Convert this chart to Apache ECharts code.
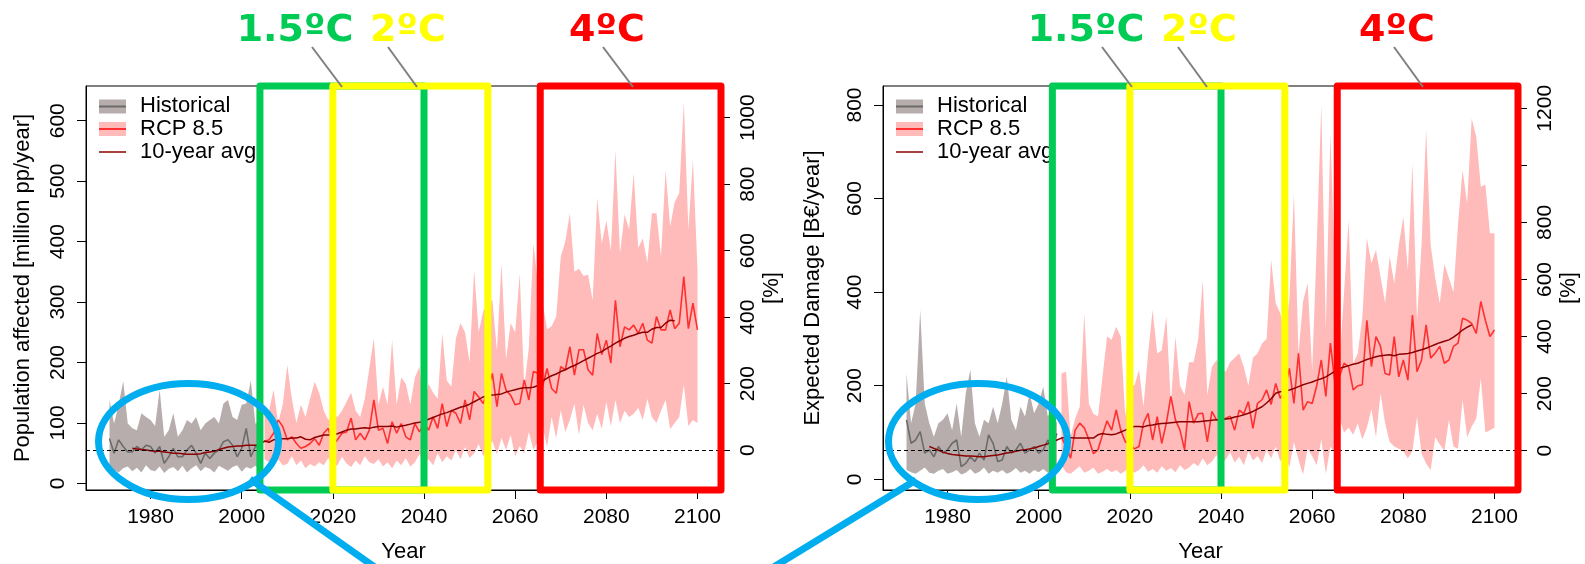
<!DOCTYPE html>
<html>
<head>
<meta charset="utf-8">
<script src="https://cdn.jsdelivr.net/npm/echarts@6/dist/echarts.min.js"></script>
<style>
html, body { margin: 0; padding: 0; background: #fff; }
#main { width: 1585px; height: 564px; }
</style>
</head>
<body>
<div id="main"></div>
<script>
// years
var histStart = 1971;   // historical 1971-2004
var rcpStart = 2005;    // RCP 8.5 2005-2100
var avgStart = 1976;    // 10-year avg 1976-2095
var xMin = 1965.84, xMax = 2105.16;
var xTicks = [1980, 2000, 2020, 2040, 2060, 2080, 2100];

// ---- left panel: population affected [million pp/year]
var popRange = [-11, 657.5];
var popBase = 55;
var popTicks = [0, 100, 200, 300, 400, 500, 600];
var popPctTicks = [0, 200, 400, 600, 800, 1000];
var popPctLabels = [0, 200, 400, 600, 800, 1000];

var popHistHigh = [138, 99, 130, 169, 99, 91, 88, 116, 110, 105,
    95, 155, 77, 88, 116, 77, 88, 105, 99, 110,
    88, 99, 105, 110, 99, 132, 138, 110, 105, 130,
    132, 170, 99, 100];
var popHistLow = [30, 22, 18, 25, 28, 20, 26, 18, 30, 22,
    20, 28, 17, 24, 27, 20, 29, 18, 25, 30,
    20, 27, 24, 18, 29, 25, 21, 27, 30, 19,
    27, 24, 29, 22];
var popHistLine = [74, 50, 72, 61, 52, 52, 61, 55, 63, 61,
    50, 61, 33, 44, 58, 44, 44, 55, 63, 50,
    33, 50, 41, 50, 55, 69, 72, 63, 44, 58,
    91, 44, 61, 60];

var popRcpHigh = [130, 120, 155, 100, 130, 196, 140, 100, 130, 110,
    140, 168, 150, 120, 105, 115, 110, 120, 135, 150,
    120, 110, 140, 190, 240, 130, 160, 130, 237, 130,
    175, 165, 130, 175, 193, 130, 165, 150, 140, 248,
    170, 160, 240, 265, 250, 200, 353, 250, 285, 300,
    303, 220, 364, 205, 265, 250, 347, 160, 225, 397,
    330, 300, 255, 260, 276, 375, 400, 447, 350, 355,
    343, 345, 303, 472, 397, 435, 385, 551, 380, 445,
    420, 513, 390, 405, 365, 447, 447, 375, 518, 425,
    465, 480, 631, 420, 535, 355];
var popRcpLow = [40, 35, 28, 40, 30, 32, 45, 30, 38, 25,
    32, 28, 35, 30, 42, 28, 30, 44, 33, 27,
    38, 30, 45, 35, 32, 40, 28, 35, 25, 38,
    30, 42, 28, 35, 48, 32, 40, 30, 50, 35,
    45, 38, 55, 40, 60, 42, 50, 65, 45, 58,
    70, 48, 75, 55, 80, 45, 62, 50, 85, 55,
    70, 95, 60, 110, 75, 121, 85, 105, 132, 80,
    130, 100, 88, 115, 90, 135, 95, 138, 100, 120,
    110, 115, 125, 105, 140, 110, 100, 120, 138, 90,
    100, 110, 163, 95, 105, 100];
var popRcpLine = [69, 72, 83, 105, 94, 72, 77, 66, 58, 61,
    66, 74, 63, 83, 91, 63, 72, 83, 85, 108,
    72, 83, 72, 88, 138, 88, 91, 66, 102, 83,
    99, 77, 72, 99, 85, 99, 88, 110, 91, 132,
    94, 121, 116, 99, 138, 105, 152, 143, 132, 154,
    182, 127, 182, 154, 146, 130, 132, 171, 138, 185,
    182, 160, 190, 157, 149, 193, 188, 226, 179, 221,
    221, 188, 179, 248, 213, 237, 199, 303, 226, 259,
    254, 262, 248, 265, 237, 232, 276, 254, 254, 287,
    256, 265, 342, 256, 298, 254];
var popAvg = [58, 57, 56, 55, 54, 53, 53, 52, 51, 50,
    50, 49, 48, 48, 48, 49, 51, 52, 53, 56,
    58, 60, 61, 62, 62, 63, 63, 63, 64, 70,
    68, 72, 73, 74, 74, 75, 75, 77, 73, 72,
    76, 78, 80, 80, 80, 82, 85, 88, 90, 90,
    91, 92, 91, 93, 94, 94, 94, 95, 93, 95,
    96, 98, 100, 101, 103, 106, 109, 112, 115, 117,
    120, 123, 126, 128, 131, 135, 139, 143, 146, 146,
    147, 148, 151, 153, 155, 157, 158, 158, 159, 162,
    169, 174, 178, 181, 185, 188, 192, 195, 199, 203,
    207, 211, 215, 218, 223, 227, 232, 236, 240, 243,
    245, 248, 250, 250, 255, 258, 258, 265, 270, 269];

// ---- right panel: expected damage [B€/year]
var dmgRange = [-22.9, 840.6];
var dmgBase = 61;
var dmgTicks = [0, 200, 400, 600, 800];
var dmgPctTicks = [0, 200, 400, 600, 800, 1000, 1200];
var dmgPctLabels = [0, 200, 400, 600, 800, 1200];

var dmgHistHigh = [226, 120, 162, 362, 162, 120, 91, 120, 127, 141,
    105, 162, 91, 184, 234, 120, 91, 127, 120, 155,
    120, 162, 219, 127, 105, 155, 134, 184, 141, 162,
    198, 134, 155, 120];
var dmgHistLow = [20, 15, 12, 18, 25, 14, 12, 18, 22, 12,
    15, 20, 10, 14, 22, 12, 16, 25, 12, 18,
    14, 20, 12, 16, 24, 14, 18, 12, 20, 15,
    22, 14, 18, 25];
var dmgHistLine = [127, 77, 84, 102, 56, 63, 48, 70, 56, 63,
    77, 84, 27, 34, 48, 38, 56, 41, 95, 77,
    38, 41, 70, 56, 63, 77, 56, 63, 70, 56,
    63, 84, 70, 98];

var dmgRcpHigh = [226, 230, 91, 130, 155, 355, 162, 140, 134, 219,
    305, 298, 326, 305, 134, 205, 200, 234, 155, 269,
    362, 269, 276, 348, 162, 305, 200, 180, 250, 250,
    300, 426, 180, 240, 255, 241, 230, 250, 260, 269,
    240, 200, 260, 269, 290, 300, 469, 376, 355, 305,
    383, 611, 269, 380, 419, 234, 500, 800, 319, 739,
    440, 248, 400, 554, 248, 269, 346, 515, 462, 490,
    433, 376, 476, 419, 500, 561, 447, 675, 340, 501,
    747, 500, 430, 376, 460, 430, 400, 545, 661, 590,
    771, 732, 625, 630, 526, 526];
var dmgRcpLow = [30, 15, 12, 20, 28, 14, 18, 25, 12, 16,
    22, 15, 20, 12, 18, 26, 14, 20, 30, 16,
    22, 14, 28, 18, 24, 15, 30, 20, 25,
    35, 28, 45, 30, 38, 52, 32, 42, 58, 36, 48, 30, 60, 40, 50, 35, 62,
    45, 70, 38, 55, 25, 80, 42, 10, 65, 50, 30, 85, 12, 70, 55,
    130, 100, 110, 95, 120, 85, 110, 150, 90, 184,
    120, 80, 70, 65, 60, 45, 60, 134, 55, 34,
    20, 90, 75, 60, 127, 70, 65, 170, 90, 113,
    130, 216, 100, 105, 110];
var dmgRcpLine = [90, 70, 45, 105, 120, 110, 85, 55, 63, 95,
    125, 105, 148, 105, 80, 75, 65, 70, 120, 141,
    84, 134, 77, 120, 177, 127, 105, 63, 166, 120,
    140, 141, 80, 145, 127, 125, 130, 135, 105, 148,
    140, 166, 109, 162, 170, 191, 160, 205, 173, 190,
    237, 162, 269, 148, 166, 162, 200, 255, 177, 291,
    205, 220, 248, 241, 191, 200, 202, 340, 241, 305,
    284, 226, 223, 305, 219, 255, 212, 351, 230, 255,
    330, 259, 270, 284, 248, 255, 284, 291, 344, 340,
    333, 312, 380, 340, 305, 319];
var dmgAvg = [70, 66, 62, 58, 55, 53, 52, 51, 50, 50,
    49, 48, 48, 50, 51, 52, 54, 56, 58, 60,
    62, 63, 65, 67, 70, 73, 76, 80, 84, 88,
    90, 89, 88, 88, 88, 88, 88, 95, 98, 96,
    95, 97, 101, 105, 109, 113, 113, 112, 115, 116,
    118, 119, 120, 121, 122, 123, 123, 123, 123, 123,
    124, 125, 126, 127, 127, 129, 130, 133, 135, 138,
    141, 145, 150, 155, 163, 172, 184, 187, 189, 191,
    194, 198, 202, 205, 208, 212, 215, 219, 225, 231,
    237, 240, 243, 246, 248, 252, 256, 259, 262, 264,
    265, 266, 264, 267, 268, 269, 271, 274, 277, 280,
    284, 288, 292, 295, 298, 304, 311, 319, 325, 330];

// warming level windows (years)
var green = '#00cc55', yellow = '#ffff00', red = '#ff0000';
var popWindows = [[2004, 2040, green], [2020, 2054, yellow], [2065.5, xMax, red]];
var dmgWindows = [[2003, 2040, green], [2020, 2054, yellow], [2065.5, xMax, red]];

var font = 'Liberation Sans, Arial, sans-serif';
var histFill = '#b8adad', histLineColor = '#6b6b6b';
var rcpFill = '#ffbaba', rcpLineColor = '#ff3030', avgColor = '#8b0000';

function yearPairs(start, vals) {
    return vals.map(function (v, i) { return [start + i, v]; });
}

function bandSeries(gi, start, lo, hi, color) {
    var pts = lo.map(function (v, i) { return [start + i, v, hi[i]]; });
    return {
        type: 'custom', xAxisIndex: gi, yAxisIndex: gi * 2, z: 1, silent: true,
        data: pts,
        renderItem: function (params, api) {
            if (params.dataIndex !== 0) return null;
            var up = [], down = [];
            for (var i = 0; i < pts.length; i++) {
                up.push(api.coord([pts[i][0], pts[i][2]]));
                down.unshift(api.coord([pts[i][0], pts[i][1]]));
            }
            return { type: 'polygon', shape: { points: up.concat(down) }, style: { fill: color } };
        }
    };
}

function lineSeries(gi, data, color, width, z, base) {
    var s = {
        type: 'line', xAxisIndex: gi, yAxisIndex: gi * 2, data: data,
        symbol: 'none', showSymbol: false, z: z, silent: true,
        lineStyle: { color: color, width: width }, itemStyle: { color: color }
    };
    if (base !== undefined) {
        s.markLine = {
            silent: true, symbol: 'none', label: { show: false },
            lineStyle: { color: '#000', width: 1, type: [4, 3] },
            data: [{ yAxis: base }]
        };
    }
    return s;
}

function boxSeries(gi, wins, range) {
    return {
        type: 'custom', xAxisIndex: gi, yAxisIndex: gi * 2, z: 20, silent: true, clip: false,
        data: wins.map(function (w) { return [w[0], w[1], range[0], range[1]]; }),
        renderItem: function (params, api) {
            var p0 = api.coord([api.value(0), api.value(3)]);
            var p1 = api.coord([api.value(1), api.value(2)]);
            return {
                type: 'rect', z2: params.dataIndex,
                shape: { x: p0[0], y: p0[1], width: p1[0] - p0[0], height: p1[1] - p0[1] },
                style: { fill: 'none', stroke: wins[params.dataIndex][2], lineWidth: 7, lineJoin: 'round' }
            };
        }
    };
}

function plain(v) { return String(v); }

function xAxisFor(gi) {
    return {
        type: 'value', gridIndex: gi, min: xMin, max: xMax,
        axisLine: { onZero: false, lineStyle: { color: '#000', width: 1 } },
        axisTick: { customValues: xTicks, length: 9, lineStyle: { color: '#000' } },
        axisLabel: { customValues: xTicks, formatter: plain, margin: 17, fontSize: 21, color: '#000', fontFamily: font },
        splitLine: { show: false },
        name: 'Year', nameLocation: 'middle', nameGap: 51,
        nameTextStyle: { fontSize: 22, color: '#000', fontFamily: font }
    };
}

function yAxesFor(gi, range, base, ticks, pctTicks, pctLabels, title, gapL) {
    var pMin = (range[0] / base - 1) * 100, pMax = (range[1] / base - 1) * 100;
    return [{
        type: 'value', gridIndex: gi, position: 'left', min: range[0], max: range[1],
        axisLine: { onZero: false, lineStyle: { color: '#000' } },
        axisTick: { customValues: ticks, length: 9, lineStyle: { color: '#000' } },
        axisLabel: { customValues: ticks, formatter: plain, rotate: 90, margin: 17, fontSize: 21, color: '#000', fontFamily: font },
        splitLine: { show: false },
        name: title, nameLocation: 'middle', nameGap: gapL, nameRotate: 90,
        nameTextStyle: { fontSize: 22, color: '#000', fontFamily: font }
    }, {
        type: 'value', gridIndex: gi, position: 'right', min: pMin, max: pMax,
        axisLine: { onZero: false, lineStyle: { color: '#000' } },
        axisTick: { customValues: pctTicks, length: 9, lineStyle: { color: '#000' } },
        axisLabel: { customValues: pctLabels, formatter: plain, rotate: 90, margin: 17, fontSize: 21, color: '#000', fontFamily: font },
        splitLine: { show: false },
        name: '[%]', nameLocation: 'middle', nameGap: 40, nameRotate: 90,
        nameTextStyle: { fontSize: 22, color: '#000', fontFamily: font }
    }];
}

// legend, warming labels, zoom ellipses (annotations)
function legendGraphics(off) {
    var g = [];
    g.push({ type: 'rect', z: 5, shape: { x: 99 + off, y: 99.5, width: 27, height: 14 }, style: { fill: histFill } });
    g.push({ type: 'line', z: 5, shape: { x1: 99 + off, y1: 106.5, x2: 126 + off, y2: 106.5 }, style: { stroke: histLineColor, lineWidth: 2 } });
    g.push({ type: 'rect', z: 5, shape: { x: 99 + off, y: 122, width: 27, height: 14 }, style: { fill: rcpFill } });
    g.push({ type: 'line', z: 5, shape: { x1: 99 + off, y1: 129, x2: 126 + off, y2: 129 }, style: { stroke: rcpLineColor, lineWidth: 2 } });
    g.push({ type: 'line', z: 5, shape: { x1: 99 + off, y1: 152, x2: 126 + off, y2: 152 }, style: { stroke: avgColor, lineWidth: 1.5 } });
    var names = ['Historical', 'RCP 8.5', '10-year avg'];
    for (var i = 0; i < 3; i++) {
        g.push({ type: 'text', z: 5, x: 140 + off, y: 106 + i * 23,
            style: { text: names[i], fontSize: 22, fontFamily: font, fill: '#000', verticalAlign: 'middle' } });
    }
    return g;
}

var warmLabels = [
    ['1.5ºC', green, 295, [312, 47, 342, 87]], ['2ºC', yellow, 408, [388, 47, 417, 87]], ['4ºC', red, 607, [603, 47, 633, 87]],
    ['1.5ºC', green, 1086, [1102, 47, 1132, 87]], ['2ºC', yellow, 1199, [1178, 47, 1207, 87]], ['4ºC', red, 1397, [1394, 47, 1423, 87]]
];

var graphics = legendGraphics(0).concat(legendGraphics(797));
warmLabels.forEach(function (w) {
    graphics.push({ type: 'text', z: 40, x: w[2], y: 31,
        style: { text: w[0], fill: w[1], fontSize: 38, fontWeight: 'bold', fontFamily: 'DejaVu Sans', align: 'center', verticalAlign: 'middle' } });
    graphics.push({ type: 'line', z: 40, shape: { x1: w[3][0], y1: w[3][1], x2: w[3][2], y2: w[3][3] },
        style: { stroke: '#808080', lineWidth: 2 } });
});
var blue = '#00aeef';
graphics.push({ type: 'ellipse', z: 50, shape: { cx: 188.5, cy: 441.5, rx: 90, ry: 58 }, style: { fill: 'none', stroke: blue, lineWidth: 7 } });
graphics.push({ type: 'ellipse', z: 50, shape: { cx: 978, cy: 441.5, rx: 89.5, ry: 58 }, style: { fill: 'none', stroke: blue, lineWidth: 7 } });
graphics.push({ type: 'line', z: 50, shape: { x1: 250, y1: 479, x2: 376, y2: 568 }, style: { stroke: blue, lineWidth: 7 } });
graphics.push({ type: 'line', z: 50, shape: { x1: 916, y1: 480, x2: 772, y2: 568 }, style: { stroke: blue, lineWidth: 7 } });

var myChart = echarts.init(document.getElementById('main'));

var option = {
    animation: false,
    backgroundColor: '#fff',
    grid: [
        { left: 86, top: 86, width: 635, height: 404, show: true, borderColor: '#000', borderWidth: 1, outerBoundsMode: 'none' },
        { left: 883, top: 86, width: 635, height: 404, show: true, borderColor: '#000', borderWidth: 1, outerBoundsMode: 'none' }
    ],
    xAxis: [xAxisFor(0), xAxisFor(1)],
    yAxis: yAxesFor(0, popRange, popBase, popTicks, popPctTicks, popPctLabels, 'Population affected [million pp/year]', 52)
        .concat(yAxesFor(1, dmgRange, dmgBase, dmgTicks, dmgPctTicks, dmgPctLabels, 'Expected Damage [B€/year]', 59)),
    series: [
        bandSeries(0, histStart, popHistLow, popHistHigh, histFill),
        bandSeries(0, rcpStart, popRcpLow, popRcpHigh, rcpFill),
        lineSeries(0, yearPairs(histStart, popHistLine), histLineColor, 1.6, 3, popBase),
        lineSeries(0, yearPairs(rcpStart, popRcpLine), rcpLineColor, 1.6, 3),
        lineSeries(0, yearPairs(avgStart, popAvg), avgColor, 1.5, 4),
        boxSeries(0, popWindows, popRange),

        bandSeries(1, histStart, dmgHistLow, dmgHistHigh, histFill),
        bandSeries(1, rcpStart, dmgRcpLow, dmgRcpHigh, rcpFill),
        lineSeries(1, yearPairs(histStart, dmgHistLine), histLineColor, 1.6, 3, dmgBase),
        lineSeries(1, yearPairs(rcpStart, dmgRcpLine), rcpLineColor, 1.6, 3),
        lineSeries(1, yearPairs(avgStart, dmgAvg), avgColor, 1.5, 4),
        boxSeries(1, dmgWindows, dmgRange)
    ],
    graphic: { elements: graphics }
};
myChart.setOption(option);
</script>
</body>
</html>
